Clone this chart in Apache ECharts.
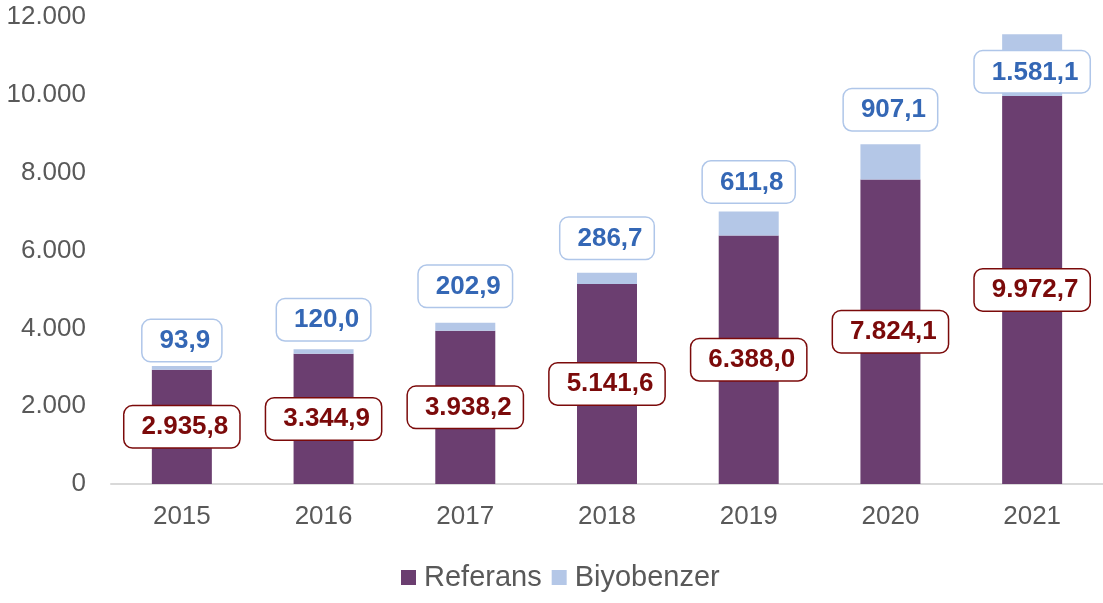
<!DOCTYPE html>
<html><head><meta charset="utf-8">
<script src="https://cdn.jsdelivr.net/npm/echarts@6/dist/echarts.min.js"></script>
<style>html,body{margin:0;padding:0;background:#fff}#c{width:1103px;height:603px}</style>
</head><body><div id="c"></div>
<script>
const categories = ['2015','2016','2017','2018','2019','2020','2021'];
const referans = [2935.8, 3344.9, 3938.2, 5141.6, 6388.0, 7824.1, 9972.7];
const biyobenzer = [93.9, 120.0, 202.9, 286.7, 611.8, 907.1, 1581.1];
const seriesNames = ['Referans', 'Biyobenzer'];

// label layout (px gap between stack top and label box bottom)
const biyoLabelGap = [5, 9, 16, 14, 9, 14, -58];

function fmtTR(v, dec) {
  const s = v.toFixed(dec);
  let [i, d] = s.split('.');
  i = i.replace(/\B(?=(\d{3})+(?!\d))/g, '.');
  return d !== undefined ? i + ',' + d : i;
}
const font = 'Liberation Sans, Arial, sans-serif';
const chart = echarts.init(document.getElementById('c'));
chart.setOption({
  animation: false,
  grid: { left: 111, top: 17, width: 996, bottom: 119, containLabel: false },
  legend: {
    bottom: 6, left: 396, itemWidth: 15, itemHeight: 15, itemGap: 10,
    icon: 'rect',
    textStyle: { fontFamily: font, fontSize: 29, color: '#595959', padding: [0, 0, 0, 3] },
    data: seriesNames
  },
  xAxis: {
    type: 'category', data: categories,
    axisLine: { lineStyle: { color: '#d9d9d9', width: 2 } },
    axisTick: { show: false },
    axisLabel: { fontFamily: font, fontSize: 26, color: '#595959', margin: 20 }
  },
  yAxis: {
    type: 'value', min: 0, max: 12000, interval: 2000,
    splitLine: { show: false }, axisLine: { show: false }, axisTick: { show: false },
    axisLabel: { fontFamily: font, fontSize: 26, color: '#595959', margin: 25,
      formatter: v => fmtTR(v, 0) }
  },
  series: [
    {
      name: seriesNames[0], type: 'bar', stack: 's', barWidth: 60,
      itemStyle: { color: '#6B3E70' },
      data: referans,
      label: {
        show: true, position: 'inside',
        formatter: p => fmtTR(p.value, 1),
        fontFamily: font, fontSize: 26, fontWeight: 'bold', color: '#7B0A0A',
        backgroundColor: '#fff', borderColor: '#7B0A0A', borderWidth: 1.5, borderRadius: 8,
        padding: [8, 11, 7, 17]
      }
    },
    {
      name: seriesNames[1], type: 'bar', stack: 's', barWidth: 60,
      itemStyle: { color: '#B4C7E7' },
      data: biyobenzer.map((v, i) => ({
        value: v,
        label: { offset: [0, -biyoLabelGap[i]] }
      })),
      label: {
        show: true, position: 'top', distance: 0,
        formatter: p => fmtTR(p.value, 1),
        fontFamily: font, fontSize: 26, fontWeight: 'bold', color: '#3467B5',
        backgroundColor: '#fff', borderColor: '#AFC6E9', borderWidth: 1.5, borderRadius: 8,
        padding: [8, 11, 7, 17]
      }
    }
  ]
});
</script></body></html>
